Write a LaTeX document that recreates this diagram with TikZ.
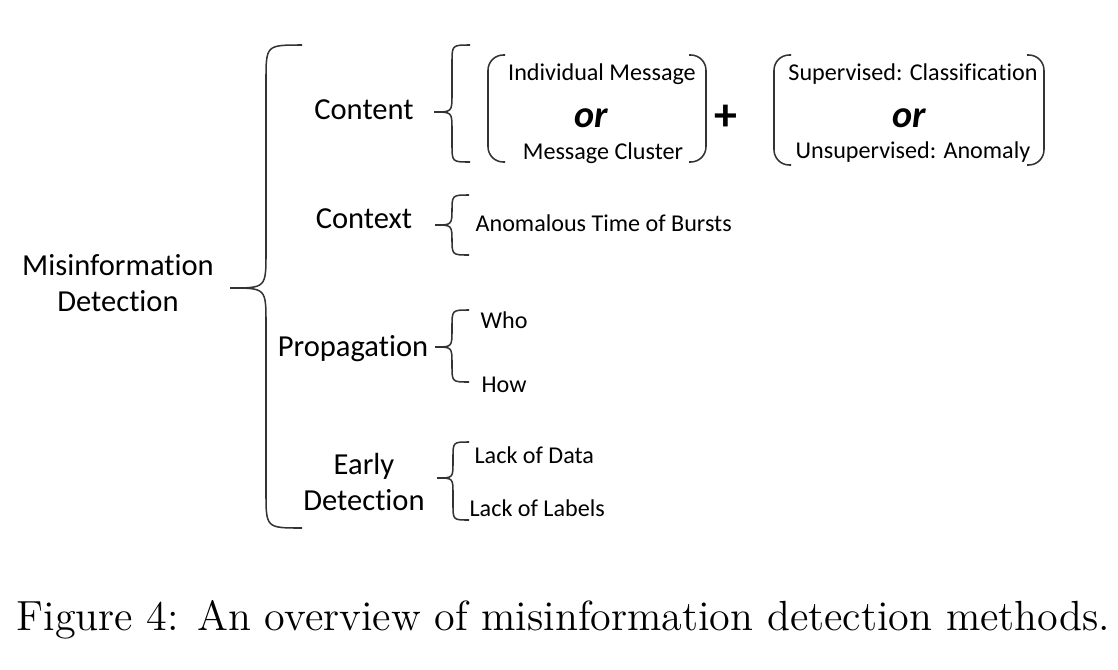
\documentclass[tikz,border=0pt]{standalone}
\usepackage{fontspec}
\newfontfamily\carlito[Ligatures=NoCommon]{Carlito}
\tikzset{head/.style = {font=\carlito\fontsize{10}{11.6}\selectfont, inner sep=0pt, align=center}}
\tikzset{leaf/.style = {font=\carlito\fontsize{7.9}{9.5}\selectfont, inner sep=0pt}}
\tikzset{orword/.style = {font=\carlito\bfseries\itshape\fontsize{12.5}{14}\selectfont, inner sep=0pt}}
\tikzset{curly/.style = {line width=0.5pt, draw=black!80}}
\tikzset{paren/.style = {line width=0.5pt, draw=black!80, rounded corners=5pt}}

% tip x, tip y, top y, bottom y, half width
\newcommand{\curlybrace}[5]{%
  \draw[curly] ({#1+2*#5},#3) .. controls ({#1+#5},#3) .. ({#1+#5},{#3+#5})
    -- ({#1+#5},{#2-#5}) .. controls ({#1+#5},#2) .. (#1,#2)
    .. controls ({#1+#5},#2) .. ({#1+#5},{#2+#5})
    -- ({#1+#5},{#4-#5}) .. controls ({#1+#5},#4) .. ({#1+2*#5},#4);}
% left x, right x, top y, bottom y
\newcommand{\roundparens}[4]{%
  \draw[paren] ({#1+17},#3) -- (#1,#3) -- (#1,#4) -- ({#1+17},#4);
  \draw[paren] ({#2-17},#3) -- (#2,#3) -- (#2,#4) -- ({#2-17},#4);}

\begin{document}
\begin{tikzpicture}[x=0.0115cm, y=-0.0115cm]
	\useasboundingbox (0,0) rectangle (1118,669);

	\node (misinfo) 	[head] 						at (118,283) 	{Misinformation\\Detection};
	\node (content) 	[head, anchor=base] 		at (364,119) 	{Content};
	\node (context) 	[head, anchor=base] 		at (364,228) 	{Context};
	\node (propag) 		[head, anchor=base] 		at (353,356) 	{Propagation};
	\node (early) 		[head] 						at (364,482) 	{Early\\Detection};

	\node (indiv) 		[leaf, anchor=base] 		at (602,80) 	{Individual Message};
	\node (orA) 		[orword, anchor=base] 		at (591,127) 	{or};
	\node (cluster) 	[leaf, anchor=base] 		at (603,159) 	{Message Cluster};
	\node (plus) 		[font=\carlito\bfseries\fontsize{15}{16}\selectfont, inner sep=0pt] at (726,118) {+};
	\node (superv) 		[leaf, anchor=base] 		at (913,80) 	{Supervised: Classification};
	\node (orB) 		[orword, anchor=base] 		at (909,127) 	{or};
	\node (unsuperv) 	[leaf, anchor=base] 		at (913,158) 	{Unsupervised: Anomaly};

	\node (bursts) 		[leaf, anchor=base west] 	at (475,231) 	{Anomalous Time of Bursts};
	\node (who) 		[leaf, anchor=base west] 	at (480,328) 	{Who};
	\node (how) 		[leaf, anchor=base west] 	at (481,392) 	{How};
	\node (lackdata) 	[leaf, anchor=base west] 	at (474,463) 	{Lack of Data};
	\node (lacklabels) 	[leaf, anchor=base west] 	at (469,516) 	{Lack of Labels};

	\curlybrace{230}{288}{45}{528}{36}
	\curlybrace{434}{112}{45}{162}{18}
	\curlybrace{435}{225}{195}{255}{17}
	\curlybrace{435}{347}{310}{382}{17}
	\curlybrace{437}{478}{442}{520}{16}

	\roundparens{488}{706}{55}{162}
	\roundparens{774}{1044}{55}{165}

	\node (caption) [inner sep=0pt, anchor=base west, font=\fontsize{13.8}{16}\selectfont] at (16,630) {Figure 4: An overview of misinformation detection methods.};
\end{tikzpicture}
\end{document}
